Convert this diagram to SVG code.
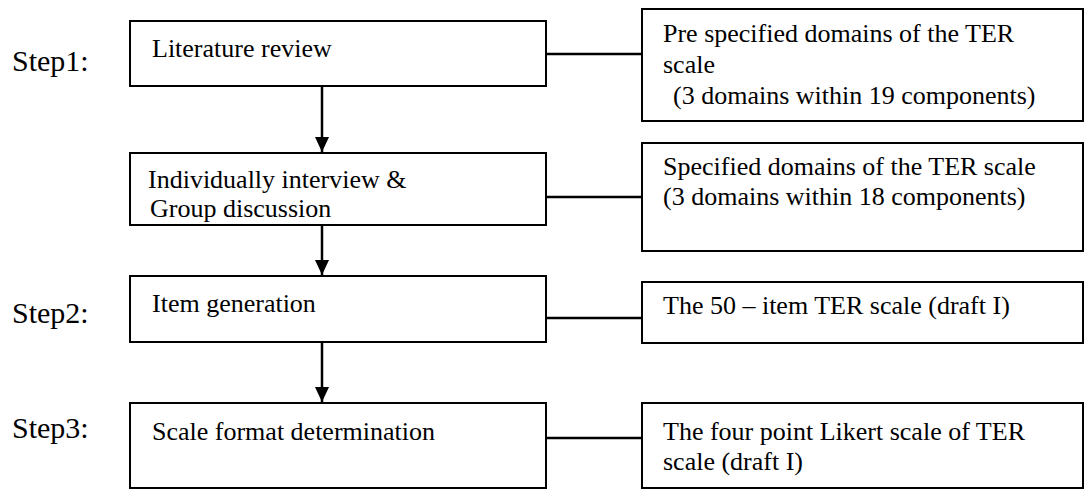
<svg xmlns="http://www.w3.org/2000/svg" width="1085" height="490" viewBox="0 0 1085 490">
<style>
.box{fill:#fff;stroke:#000;stroke-width:2}
.t{font-family:"Liberation Serif","Times New Roman",serif;font-size:26px;fill:#000}
.step{font-family:"Liberation Serif","Times New Roman",serif;font-size:30px;fill:#000}
.c{stroke:#000;stroke-width:2.5;fill:none}
</style>
<defs>
<marker id="ah" markerUnits="userSpaceOnUse" markerWidth="16" markerHeight="16" viewBox="0 0 16 16" refX="15" refY="8" orient="auto">
<path d="M0,1 L15,8 L0,15 Z" fill="#000"/>
</marker>
</defs>
<rect width="1085" height="490" fill="#fff"/>
<g id="labels">
<text class="step" x="12" y="71">Step1:</text>
<text class="step" x="12" y="323">Step2:</text>
<text class="step" x="12" y="438">Step3:</text>
</g>
<g id="connectors">
<line class="c" x1="322" y1="86" x2="322" y2="152" marker-end="url(#ah)"/>
<line class="c" x1="322" y1="225" x2="322" y2="275" marker-end="url(#ah)"/>
<line class="c" x1="322" y1="342" x2="322" y2="402" marker-end="url(#ah)"/>
<line class="c" x1="546" y1="54" x2="642" y2="54"/>
<line class="c" x1="546" y1="197" x2="642" y2="197"/>
<line class="c" x1="546" y1="318" x2="642" y2="318"/>
<line class="c" x1="546" y1="438" x2="642" y2="438"/>
</g>
<g id="n1">
<rect class="box" x="130" y="21" width="416" height="65"/>
<text class="t" x="152" y="57">Literature review</text>
</g>
<g id="n2">
<rect class="box" x="130" y="153" width="416" height="72"/>
<text class="t" x="148" y="188">Individually interview &amp;</text>
<text class="t" x="150" y="217">Group discussion</text>
</g>
<g id="n3">
<rect class="box" x="130" y="276" width="416" height="66"/>
<text class="t" x="152" y="312">Item generation</text>
</g>
<g id="n4">
<rect class="box" x="130" y="403" width="416" height="85"/>
<text class="t" x="152" y="440">Scale format determination</text>
</g>
<g id="r1">
<rect class="box" x="642" y="9" width="441" height="112"/>
<text class="t" x="663" y="42">Pre specified domains of the TER</text>
<text class="t" x="663" y="73">scale</text>
<text class="t" x="673" y="104">(3 domains within 19 components)</text>
</g>
<g id="r2">
<rect class="box" x="642" y="143" width="441" height="108"/>
<text class="t" x="663" y="175">Specified domains of the TER scale</text>
<text class="t" x="663" y="205">(3 domains within 18 components)</text>
</g>
<g id="r3">
<rect class="box" x="642" y="282" width="441" height="61"/>
<text class="t" x="663" y="314">The 50 – item TER scale (draft I)</text>
</g>
<g id="r4">
<rect class="box" x="642" y="403" width="441" height="85"/>
<text class="t" x="663" y="440">The four point Likert scale of TER</text>
<text class="t" x="663" y="470">scale (draft I)</text>
</g>
</svg>
